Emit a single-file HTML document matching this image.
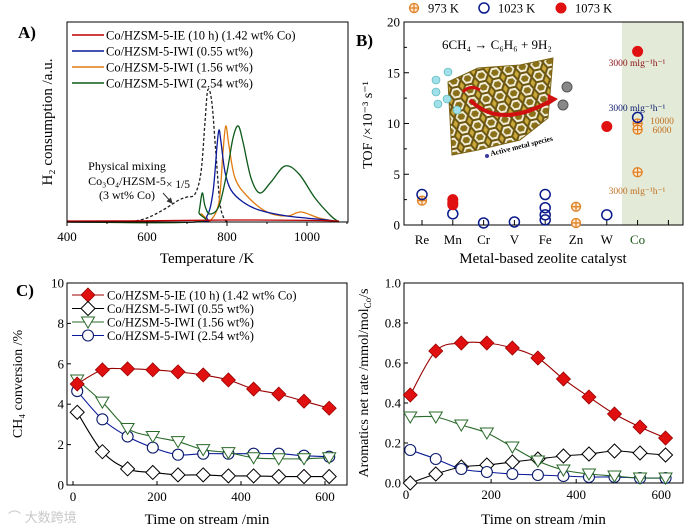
<!DOCTYPE html>
<html><head><meta charset="utf-8"><style>
html,body{margin:0;padding:0;background:#fff}
svg{display:block;font-family:"Liberation Serif",serif}
</style></head><body>
<svg id="fig" width="700" height="532" viewBox="0 0 700 532">
<defs>
<pattern id="hex" width="14" height="12" patternUnits="userSpaceOnUse" patternTransform="rotate(-12)">
<rect width="14" height="12" fill="#c9a93a"/>
<path d="M0 6 L3.5 0 L10.5 0 L14 6 L10.5 12 L3.5 12 Z" fill="#f4f0dc" stroke="#6b5510" stroke-width="2"/>
<path d="M3 6 L5 3 L9 3 L11 6 L9 9 L5 9Z" fill="#8a7018"/>
</pattern>
<marker id="ah" markerWidth="6" markerHeight="6" refX="5" refY="3" orient="auto"><path d="M0 0L6 3L0 6Z" fill="#333"/></marker>
</defs>
<g id="gA"></g>
<g id="gB"></g>
<g id="gC"></g>
<g id="gD"></g>
<text x="8" y="522" font-size="13" fill="#c8c8c8" font-family="Liberation Sans, Noto Sans CJK SC, sans-serif">⌒ 大数跨境</text>
</svg>
<script>
// ---------- Panel A data ----------
const tprRedT=[400,600,800,1000,1080];
const tprRedV=[0.5,0.6,1.0,0.8,0.5];
const tprBlueT=[400,720,750,765,775,780,785,795,810,840,880,950,1050,1080];
const tprBlueV=[0,0,3,15,38,46,40,25,16,10,6,3,1,0];
const tprOrangeT=[400,720,735,745,760,780,790,797,805,820,850,900,950,985,1030,1080];
const tprOrangeV=[0,0,4,2,1,10,35,48,38,22,13,5,3,5,2,0];
const tprGreenT=[400,720,730,738,745,757,780,800,815,828,840,860,882,910,945,980,1020,1060,1080];
const tprGreenV=[0,0,5,14.5,8,4,8,25,42,48,40,22,14.5,20,28,24,12,3,0];
const tprDashT=[560,600,640,680,700,720,735,745,752,762,772,782,792,802];
const tprDashV=[0,2,6,11,12.5,14,25,50,66,60,35,10,2,0];
const tempTicks=[400,600,800,1000];
// ---------- Panel B data ----------
const metals=["Re","Mn","Cr","V","Fe","Zn","W","Co"];
const tof973Idx=[0,5,5,7,7,7];
const tof973Val=[2.4,1.8,0.2,10.0,9.4,5.2];
const tof1023Idx=[0,1,2,3,4,4,4,4,6,7];
const tof1023Val=[3.0,1.1,0.2,0.3,3.0,1.7,1.0,0.5,1.0,10.6];
const tof1073Idx=[1,1,1,6,7];
const tof1073Val=[2.5,2.2,2.0,9.7,17.1];
const tofTicks=[0,5,10,15,20];
// ---------- Panels C/D data ----------
const tos=[10,70,130,190,250,310,370,430,490,550,610];
const convIE=[5.0,5.7,5.75,5.7,5.6,5.45,5.2,4.75,4.5,4.15,3.8];
const conv055=[3.6,1.65,0.8,0.62,0.5,0.5,0.45,0.45,0.42,0.42,0.42];
const conv156=[5.2,4.1,2.8,2.4,2.15,1.75,1.6,1.35,1.3,1.3,1.35];
const conv254=[4.65,3.25,2.4,1.85,1.5,1.55,1.55,1.55,1.55,1.45,1.4];
const rateIE=[0.44,0.66,0.70,0.70,0.675,0.625,0.52,0.43,0.345,0.28,0.225];
const rate055=[0.0,0.045,0.08,0.09,0.105,0.12,0.135,0.145,0.16,0.15,0.14];
const rate156=[0.33,0.33,0.29,0.25,0.18,0.11,0.065,0.045,0.035,0.025,0.025];
const rate254=[0.165,0.12,0.07,0.055,0.045,0.04,0.035,0.03,0.03,0.025,0.025];
const convTicks=[0,2,4,6,8,10];
const rateTicks=[0,0.2,0.4,0.6,0.8,1.0];
const timeTicks=[0,200,400,600];

const NS="http://www.w3.org/2000/svg";
function el(p,tag,at,txt){const e=document.createElementNS(NS,tag);for(const k in at)e.setAttribute(k,at[k]);if(txt!==undefined)e.textContent=txt;p.appendChild(e);return e;}
function smooth(pts){let d="M"+pts[0][0]+" "+pts[0][1];for(let i=0;i<pts.length-1;i++){const p0=pts[Math.max(0,i-1)],p1=pts[i],p2=pts[i+1],p3=pts[Math.min(pts.length-1,i+2)];const t=6;d+=" C"+(p1[0]+(p2[0]-p0[0])/t)+" "+(p1[1]+(p2[1]-p0[1])/t)+" "+(p2[0]-(p3[0]-p1[0])/t)+" "+(p2[1]-(p3[1]-p1[1])/t)+" "+p2[0]+" "+p2[1];}return d;}

// ================= Panel A =================
const gA=document.getElementById('gA');
const ax=t=>67+(t-400)*0.4, ay=v=>222-v*2;
let e;
e=el(gA,'text',{x:18,y:38,'font-size':17,'font-weight':'bold'},'A)');

function lineA(T,V,col,name,dash){const p=T.map((t,i)=>[ax(t),ay(V[i])]);const l=el(gA,'path',{d:smooth(p),fill:'none',stroke:col,'stroke-width':1.3});if(dash)l.setAttribute('stroke-dasharray','3,2');

}
lineA(tprDashT,tprDashV,'#222','physical-mixing-curve',true);
lineA(tprOrangeT,tprOrangeV,'#e07b10','tpr-1-56-curve');
lineA(tprBlueT,tprBlueV,'#0a1a9a','tpr-0-55-curve');
lineA(tprGreenT,tprGreenV,'#0d5a1a','tpr-2-54-curve');
lineA(tprRedT,tprRedV,'#c00000','tpr-ie-curve');
e=el(gA,'rect',{x:67,y:22,width:281,height:200,fill:'none',stroke:'#000','stroke-width':1});

tempTicks.forEach(t=>{el(gA,'line',{x1:ax(t),x2:ax(t),y1:222,y2:226,stroke:'#000'});
const tl=el(gA,'text',{x:ax(t),y:241,'font-size':13,'text-anchor':'middle'},t);
});
[500,700,900,1100].forEach(t=>el(gA,'line',{x1:ax(t),x2:ax(t),y1:222,y2:224,stroke:'#000'}));
e=el(gA,'text',{x:207,y:263,'font-size':15,'text-anchor':'middle'},'Temperature /K');

e=el(gA,'text',{x:0,y:0,'font-size':15,'text-anchor':'middle',transform:'translate(52,122) rotate(-90)'},'H₂ consumption /a.u.');

const legA=[['#c00000','Co/HZSM-5-IE (10 h) (1.42 wt% Co)'],['#0a1a9a','Co/HZSM-5-IWI (0.55 wt%)'],['#e07b10','Co/HZSM-5-IWI (1.56 wt%)'],['#0d5a1a','Co/HZSM-5-IWI (2.54 wt%)']];
legA.forEach((l,i)=>{const y=35+i*16;el(gA,'line',{x1:72,x2:104,y1:y,y2:y,stroke:l[0],'stroke-width':1.5});
const tx=el(gA,'text',{x:106,y:y+4.5,'font-size':12.5},l[1]);
});
el(gA,'text',{x:127,y:170,'font-size':12,'text-anchor':'middle'},'Physical mixing');
el(gA,'text',{x:127,y:185,'font-size':12,'text-anchor':'middle'},'Co₃O₄/HZSM-5');
el(gA,'text',{x:127,y:199,'font-size':12,'text-anchor':'middle'},'(3 wt% Co)');
el(gA,'text',{x:166,y:188,'font-size':11.5},'× 1/5');
el(gA,'line',{x1:163,y1:193,x2:172,y2:203,stroke:'#333','stroke-width':1,'marker-end':'url(#ah)'});

// ================= Panel B =================
const gB=document.getElementById('gB');
const bx=i=>422+30.8*i, by=v=>225-v*10.15;
e=el(gB,'rect',{x:622,y:22,width:61,height:203,fill:'#e3ead8'});

e=el(gB,'rect',{x:404,y:22,width:279,height:203,fill:'none',stroke:'#000'});

e=el(gB,'text',{x:356,y:46,'font-size':17,'font-weight':'bold'},'B)');

tofTicks.forEach(v=>{el(gB,'line',{x1:404,x2:409,y1:by(v),y2:by(v),stroke:'#000'});
const tl=el(gB,'text',{x:400,y:by(v)+4.5,'font-size':13,'text-anchor':'end'},v);
});
[2.5,7.5,12.5,17.5].forEach(v=>el(gB,'line',{x1:404,x2:407,y1:by(v),y2:by(v),stroke:'#000'}));
metals.forEach((m,i)=>{el(gB,'line',{x1:bx(i),x2:bx(i),y1:225,y2:220,stroke:'#000'});
const tl=el(gB,'text',{x:bx(i),y:244,'font-size':13,'text-anchor':'middle',fill:m==='Co'?'#1d5a1d':'#000'},m);
});
el(gB,'line',{x1:bx(8),x2:bx(8),y1:225,y2:220,stroke:'#000'});
e=el(gB,'text',{x:543,y:263,'font-size':15,'text-anchor':'middle'},'Metal-based zeolite catalyst');

e=el(gB,'text',{x:0,y:0,'font-size':14,'text-anchor':'middle',transform:'translate(372,125) rotate(-90)'},'TOF /×10⁻³ s⁻¹');

// inset zeolite illustration
const ins=el(gB,'g',{});


el(ins,'path',{d:'M448 82 L478 68 L520 65 L553 58 L548 118 L520 140 L478 150 L452 155 Z',fill:'url(#hex)',stroke:'#7a6212','stroke-width':1});
el(ins,'path',{d:'M470 100 Q500 130 552 100',fill:'none',stroke:'#d01010','stroke-width':4});
el(ins,'path',{d:'M548 94 L558 99 L547 106Z',fill:'#d01010'});
el(ins,'path',{d:'M463 92 Q470 84 480 90',fill:'none',stroke:'#d01010','stroke-width':3});
[[436,80],[448,72],[436,92],[447,99],[457,110],[438,104]].forEach(p=>el(ins,'circle',{cx:p[0],cy:p[1],r:4,fill:'#9fe0ea',stroke:'#4aa',"stroke-width":0.6}));
[[567,87],[563,105]].forEach(p=>el(ins,'circle',{cx:p[0],cy:p[1],r:5,fill:'#888',stroke:'#555'}));
el(ins,'circle',{cx:487,cy:156,r:2,fill:'#3a3aa0'});
el(ins,'text',{x:491,y:156,'font-size':7.5,'font-weight':'bold',transform:'rotate(-14 491 156)'},'Active metal species');
e=el(gB,'text',{x:442,y:49,'font-size':13},'6CH₄ → C₆H₆ + 9H₂');

// points
tof973Idx.forEach((ix,k)=>{const cx=bx(ix),cy=by(tof973Val[k]);const g=el(gB,'g',{});


el(g,'circle',{cx,cy,r:4.5,fill:'#fbe7cf',stroke:'#e08020','stroke-width':1.3});
el(g,'path',{d:`M${cx-4.5} ${cy}H${cx+4.5}M${cx} ${cy-4.5}V${cy+4.5}`,stroke:'#e08020','stroke-width':1.2});});
tof1023Idx.forEach((ix,k)=>{const c=el(gB,'circle',{cx:bx(ix),cy:by(tof1023Val[k]),r:5,fill:'none',stroke:'#0a1a8a','stroke-width':1.5});

});
tof1073Idx.forEach((ix,k)=>{const c=el(gB,'circle',{cx:bx(ix),cy:by(tof1073Val[k]),r:5.5,fill:'#e01010'});

});
el(gB,'text',{x:637,y:66,'font-size':9.5,'text-anchor':'middle',fill:'#8a1010'},'3000 mlg⁻¹h⁻¹');
el(gB,'text',{x:637,y:111,'font-size':9.5,'text-anchor':'middle',fill:'#0a1a6a'},'3000 mlg⁻¹h⁻¹');
el(gB,'text',{x:662,y:124,'font-size':9.5,'text-anchor':'middle',fill:'#c07020'},'10000');
el(gB,'text',{x:662,y:133,'font-size':9.5,'text-anchor':'middle',fill:'#c07020'},'6000');
el(gB,'text',{x:637,y:194,'font-size':9.5,'text-anchor':'middle',fill:'#c07020'},'3000 mlg⁻¹h⁻¹');
// legend B
const lb=el(gB,'g',{});


el(lb,'circle',{cx:414,cy:8,r:4.5,fill:'#fbe7cf',stroke:'#e08020','stroke-width':1.3});
el(lb,'path',{d:'M409.5 8H418.5M414 3.5V12.5',stroke:'#e08020','stroke-width':1.2});
el(lb,'text',{x:428,y:12.5,'font-size':12.5},'973 K');
el(lb,'circle',{cx:484,cy:8,r:5,fill:'none',stroke:'#0a1a8a','stroke-width':1.5});
el(lb,'text',{x:498,y:12.5,'font-size':12.5},'1023 K');
el(lb,'circle',{cx:561,cy:8,r:5.5,fill:'#e01010'});
el(lb,'text',{x:575,y:12.5,'font-size':12.5},'1073 K');

// ================= Panels C & D =================
function marker(g,type,x,y,name){let m;
if(type==='dfill')m=el(g,'path',{d:`M${x} ${y-7}L${x+7} ${y}L${x} ${y+7}L${x-7} ${y}Z`,fill:'#e01010',stroke:'#900','stroke-width':0.8});
if(type==='d')m=el(g,'path',{d:`M${x} ${y-7}L${x+7} ${y}L${x} ${y+7}L${x-7} ${y}Z`,fill:'#fff',stroke:'#000','stroke-width':1});
if(type==='t')m=el(g,'path',{d:`M${x-6.5} ${y-5}L${x+6.5} ${y-5}L${x} ${y+6}Z`,fill:'#fff',stroke:'#2a6a2a','stroke-width':1});
if(type==='o')m=el(g,'circle',{cx:x,cy:y,r:5.5,fill:'#fff',stroke:'#0a1a6a','stroke-width':1.1});

}
function series(g,X,Y,vals,type,col,name){const p=tos.map((t,i)=>[X(t),Y(vals[i])]);
const l=el(g,'path',{d:smooth(p),fill:'none',stroke:col,'stroke-width':1.1});


p.forEach(q=>marker(g,type,q[0],q[1],name+'-marker'));}
function panel(g,x0,x1,y0,y1,X,Y,ticks,fmt,ytitle,ytx,sets){
el(g,'rect',{x:x0,y:y0,width:x1-x0,height:y1-y0,fill:'none',stroke:'#000'});
ticks.forEach(v=>{el(g,'line',{x1:x0,x2:x0+4,y1:Y(v),y2:Y(v),stroke:'#000'});
const tl=el(g,'text',{x:x0-3,y:Y(v)+4.5,'font-size':13,'text-anchor':'end'},fmt(v));
});
timeTicks.forEach(t=>{el(g,'line',{x1:X(t),x2:X(t),y1:y1,y2:y1-4,stroke:'#000'});
const tl=el(g,'text',{x:X(t),y:y1+16,'font-size':13,'text-anchor':'middle'},t);
});
let t=el(g,'text',{x:(x0+x1)/2,y:524,'font-size':15,'text-anchor':'middle'},'Time on stream /min');

t=el(g,'text',{x:0,y:0,'font-size':14,'text-anchor':'middle',transform:`translate(${ytx},${(y0+y1)/2}) rotate(-90)`});
t.innerHTML=ytitle;

sets.forEach(s=>series(g,X,Y,s[0],s[1],s[2],s[3]));}
const gC=document.getElementById('gC');
const cx=t=>73+0.42*t, cy=v=>485-v*20.2;
panel(gC,67,347,283,485,cx,cy,convTicks,v=>v,'CH₄ conversion /%',22,
 [[conv055,'d','#000','conv-0-55'],[conv254,'o','#0a1a9a','conv-2-54'],[conv156,'t','#2a6a2a','conv-1-56'],[convIE,'dfill','#900','conv-ie']]);
e=el(gC,'text',{x:16,y:296,'font-size':17,'font-weight':'bold'},'C)');

const legC=[['dfill','#900','Co/HZSM-5-IE (10 h) (1.42 wt% Co)'],['d','#000','Co/HZSM-5-IWI (0.55 wt%)'],['t','#2a6a2a','Co/HZSM-5-IWI (1.56 wt%)'],['o','#0a1a9a','Co/HZSM-5-IWI (2.54 wt%)']];
legC.forEach((l,i)=>{const y=295+i*13.5;el(gC,'line',{x1:72,x2:104,y1:y,y2:y,stroke:l[1],'stroke-width':1.1});
marker(gC,l[0],88,y,'legend-marker-c');
const tx=el(gC,'text',{x:107,y:y+4.5,'font-size':12.5},l[2]);
});
const gD=document.getElementById('gD');
const dx=t=>406+0.4255*t, dy=v=>483-v*200;
panel(gD,404,683,283,483,dx,dy,rateTicks,v=>v.toFixed(1),'Aromatics net rate /mmol/mol<tspan font-size="9" dy="3">Co</tspan><tspan dy="-3">/s</tspan>',368,
 [[rate055,'d','#000','rate-0-55'],[rate254,'o','#0a1a9a','rate-2-54'],[rate156,'t','#2a6a2a','rate-1-56'],[rateIE,'dfill','#900','rate-ie']]);
</script>
</body></html>
